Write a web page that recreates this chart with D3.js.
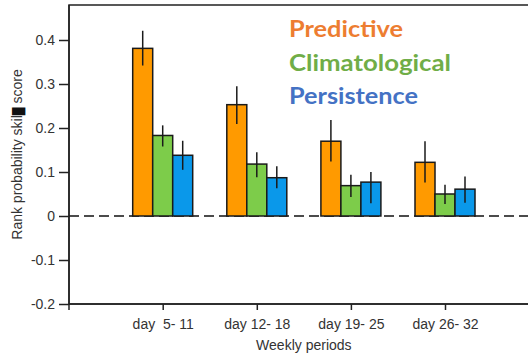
<!DOCTYPE html>
<html>
<head>
<meta charset="utf-8">
<script src="https://cdn.jsdelivr.net/npm/d3@7"></script>
<style>
  html, body { margin: 0; padding: 0; background: #fff; }
  svg { display: block; }
</style>
</head>
<body>
<div id="chart"></div>
<script>
// Weekly periods and the three forecast series (rank probability skill score)
const periods = ['day  5- 11', 'day 12- 18', 'day 19- 25', 'day 26- 32'];
const seriesNames = ['Predictive', 'Climatological', 'Persistence'];

const predictive = [0.381, 0.253, 0.170, 0.122];
const predictiveLo = [0.342, 0.209, 0.124, 0.076];
const predictiveHi = [0.421, 0.295, 0.218, 0.170];

const climatological = [0.183, 0.118, 0.069, 0.050];
const climatologicalLo = [0.158, 0.088, 0.043, 0.027];
const climatologicalHi = [0.206, 0.145, 0.094, 0.071];

const persistence = [0.138, 0.087, 0.077, 0.061];
const persistenceLo = [0.105, 0.063, 0.029, 0.030];
const persistenceHi = [0.171, 0.113, 0.100, 0.090];

const yTicks = [-0.2, -0.1, 0, 0.1, 0.2, 0.3, 0.4];

const barColors = ['#ff9a00', '#7dcc4a', '#0a98ea'];
const legendColors = ['#ed7d31', '#70ad47', '#4472c4'];
const legendWidths = [114, 162, 129];

const width = 528, height = 354;
const margin = { top: 5, right: -4, bottom: 50, left: 69 };

const svg = d3.select('#chart').append('svg')
  .attr('width', width)
  .attr('height', height);

// Scales
const x = d3.scalePoint()
  .domain(periods)
  .range([162.7, 445]);

const xInner = d3.scaleBand()
  .domain(seriesNames)
  .range([-30, 30]);

const y = d3.scaleLinear()
  .domain([-0.2, 0.4])
  .range([304, 40]);

const tables = [
  { name: 'Predictive', v: predictive, lo: predictiveLo, hi: predictiveHi },
  { name: 'Climatological', v: climatological, lo: climatologicalLo, hi: climatologicalHi },
  { name: 'Persistence', v: persistence, lo: persistenceLo, hi: persistenceHi }
];

// Frame (top / right)
svg.append('rect')
  .attr('x', margin.left)
  .attr('y', margin.top)
  .attr('width', width - margin.left - margin.right)
  .attr('height', y(-0.2) - margin.top)
  .attr('fill', 'none')
  .attr('stroke', '#222')
  .attr('stroke-width', 1.5);

// Zero line
svg.append('line')
  .attr('x1', margin.left)
  .attr('x2', width)
  .attr('y1', y(0))
  .attr('y2', y(0))
  .attr('stroke', '#111')
  .attr('stroke-width', 1.5)
  .attr('stroke-dasharray', '10,5');

// Bars
tables.forEach((s, si) => {
  const g = svg.append('g');
  g.selectAll('rect')
    .data(s.v)
    .join('rect')
    .attr('x', (d, i) => x(periods[i]) + xInner(s.name))
    .attr('width', xInner.bandwidth())
    .attr('y', d => y(d))
    .attr('height', d => y(0) - y(d))
    .attr('fill', barColors[si])
    .attr('stroke', '#1a1a1a')
    .attr('stroke-width', 1.5);

  g.selectAll('line')
    .data(s.v)
    .join('line')
    .attr('x1', (d, i) => x(periods[i]) + xInner(s.name) + xInner.bandwidth() / 2)
    .attr('x2', (d, i) => x(periods[i]) + xInner(s.name) + xInner.bandwidth() / 2)
    .attr('y1', (d, i) => y(s.hi[i]))
    .attr('y2', (d, i) => y(s.lo[i]))
    .attr('stroke', '#1a1a1a')
    .attr('stroke-width', 1.5);
});

// Axes
const fmt = d => d === 0 ? '0' : d3.format('.1f')(d).replace('−', '-');

const yAxis = svg.append('g')
  .attr('transform', `translate(${margin.left},0)`)
  .call(d3.axisLeft(y).tickValues(yTicks).tickFormat(fmt).tickSize(10).tickPadding(4).tickSizeOuter(0));
yAxis.select('.domain').attr('d', `M0,${margin.top}V310`);

const xAxis = svg.append('g')
  .attr('transform', `translate(0,${y(-0.2)})`)
  .call(d3.axisBottom(x).tickSize(6).tickPadding(9).tickSizeOuter(0));
xAxis.select('.domain').attr('d', `M${margin.left},0H${width}`);

svg.selectAll('.tick text')
  .attr('font-family', 'Liberation Sans, Arial, sans-serif')
  .attr('font-size', 14)
  .attr('fill', '#333');
svg.selectAll('.tick line, .domain')
  .attr('stroke', '#222')
  .attr('stroke-width', 1.5);
xAxis.selectAll('.tick text').style('white-space', 'pre').attr('xml:space', 'preserve');

// Axis titles
svg.append('text')
  .attr('x', (x(periods[1]) + x(periods[2])) / 2)
  .attr('y', 350)
  .attr('text-anchor', 'middle')
  .attr('font-family', 'Liberation Sans, Arial, sans-serif')
  .attr('font-size', 14)
  .attr('fill', '#333')
  .text('Weekly periods');

const yTitle = svg.append('text')
  .attr('transform', `translate(22,${(y(-0.2) + margin.top) / 2}) rotate(-90)`)
  .attr('text-anchor', 'middle')
  .attr('font-family', 'Liberation Sans, Arial, sans-serif')
  .attr('font-size', 14)
  .attr('fill', '#333');
yTitle.append('tspan').text('Rank probability skil');
yTitle.append('tspan').attr('font-size', 11).attr('fill', '#111').text('█');
yTitle.append('tspan').text(' score');

// Legend
svg.append('g')
  .selectAll('text')
  .data(seriesNames)
  .join('text')
  .attr('x', 289)
  .attr('y', (d, i) => 37 + i * 33.5)
  .attr('font-family', 'Lato, Open Sans, sans-serif')
  .attr('font-weight', 'bold')
  .attr('font-size', 23)
  .attr('fill', (d, i) => legendColors[i])
  .attr('textLength', (d, i) => legendWidths[i])
  .attr('lengthAdjust', 'spacingAndGlyphs')
  .text(d => d);
</script>
</body>
</html>
